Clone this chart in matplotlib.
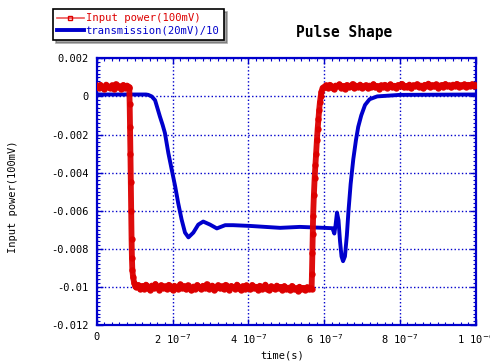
import numpy as np
import matplotlib
matplotlib.use("Agg")
import matplotlib.pyplot as plt
from matplotlib.lines import Line2D
from matplotlib.ticker import MultipleLocator

# ---------------- data ----------------
# Input power (red), sample times in ns
red_high1_t = np.arange(0, 86, 5)
red_high1_v = [0.00055, 0.00043, 0.00061, 0.00047, 0.00038, 0.00062, 0.00050, 0.00044, 0.00058,
               0.00041, 0.00064, 0.00047, 0.00053, 0.00039, 0.00060, 0.00045, 0.00057, 0.00049]
red_fall_t = [86, 87, 88, 89, 90, 91, 92, 93, 94, 96, 99, 102]
red_fall_v = [0.00045, -0.0004, -0.0016, -0.0030, -0.0045, -0.0060, -0.0075, -0.0085, -0.0091,
              -0.0095, -0.0098, -0.00995]
red_low_t = np.arange(105, 566, 5)
red_low_v = [-0.01002, -0.00990, -0.01012, -0.00995, -0.01010, -0.00988, -0.01005, -0.01015, -0.00993,
             -0.01008, -0.00985, -0.01003, -0.01014, -0.00991, -0.01006, -0.00997, -0.01012, -0.00989,
             -0.01004, -0.01016, -0.00994, -0.01001, -0.01011, -0.00987, -0.01007, -0.00996, -0.01013,
             -0.00992, -0.01005, -0.01018, -0.00998, -0.01009, -0.00990, -0.01003, -0.01012, -0.00994,
             -0.01006, -0.00986, -0.01010, -0.01001, -0.00993, -0.01015, -0.01004, -0.00991, -0.01008,
             -0.00997, -0.01012, -0.00989, -0.01005, -0.01014, -0.00995, -0.01002, -0.01010, -0.00988,
             -0.01006, -0.01016, -0.00996, -0.01009, -0.00992, -0.01004, -0.01013, -0.00990, -0.01007,
             -0.00999, -0.01015, -0.00994, -0.01011, -0.01003, -0.00988, -0.01009, -0.01017, -0.00997,
             -0.01006, -0.01012, -0.00993, -0.01008, -0.01000, -0.01014, -0.00996, -0.01010, -0.01004,
             -0.01016, -0.00995, -0.01011, -0.01007, -0.01019, -0.00999, -0.01013, -0.01005, -0.01017,
             -0.01002, -0.01012, -0.01008]
red_rise_t = [567, 568, 569, 570, 571, 573, 575, 577, 579, 581, 583, 585, 587, 589, 591, 593, 596]
red_rise_v = [-0.0101, -0.0093, -0.0082, -0.0072, -0.0063, -0.0052, -0.0043, -0.0036, -0.0030,
              -0.0023, -0.0017, -0.0012, -0.0007, -0.0003, 0.0000, 0.00025, 0.00045]
red_high2_t = np.arange(600, 1001, 5)
red_high2_v = [0.00050, 0.00058, 0.00044, 0.00061, 0.00049, 0.00039, 0.00057, 0.00052, 0.00063, 0.00046,
               0.00055, 0.00041, 0.00060, 0.00048, 0.00054, 0.00065, 0.00043, 0.00056, 0.00050, 0.00062,
               0.00045, 0.00053, 0.00059, 0.00042, 0.00057, 0.00049, 0.00064, 0.00047, 0.00055, 0.00040,
               0.00058, 0.00051, 0.00061, 0.00046, 0.00054, 0.00063, 0.00048, 0.00056, 0.00044, 0.00060,
               0.00052, 0.00066, 0.00047, 0.00055, 0.00050, 0.00062, 0.00043, 0.00058, 0.00053, 0.00064,
               0.00049, 0.00057, 0.00045, 0.00061, 0.00054, 0.00067, 0.00048, 0.00059, 0.00052, 0.00063,
               0.00046, 0.00056, 0.00060, 0.00050, 0.00065, 0.00053, 0.00058, 0.00047, 0.00062, 0.00055,
               0.00066, 0.00051, 0.00059, 0.00054, 0.00063, 0.00049, 0.00061, 0.00057, 0.00064, 0.00053,
               0.00060]

# Transmission (blue), times in ns
blue_t = [0, 130, 136, 145, 154, 160, 167, 174, 180, 189, 198, 207, 215, 224, 233, 242, 255, 268, 281, 299,
          317, 339, 360, 405, 484, 536, 600, 622, 627, 630, 634, 638, 642, 646, 650, 655, 660, 664,
          670, 677, 684, 690, 698, 708, 720, 740, 800, 1000]
blue_v = [0.0001, 0.0001, 0.00008, 0.0, -0.0002, -0.0006, -0.00107, -0.0015, -0.00192, -0.00297, -0.00385,
          -0.00472, -0.0056, -0.00646, -0.00715, -0.0074, -0.00715, -0.00673, -0.00657, -0.00673, -0.00693,
          -0.00676, -0.00676, -0.0068, -0.0069, -0.00685, -0.0069, -0.00692, -0.0072, -0.0068, -0.0061,
          -0.0065, -0.0076, -0.0084, -0.00865, -0.0084, -0.0073, -0.0061, -0.0046, -0.0033, -0.0023,
          -0.0016, -0.0010, -0.00045, -0.00015, 0.0, 0.00008, 0.0001]

x_ticks = [0, 2e-7, 4e-7, 6e-7, 8e-7, 1e-6]
x_ticklabels = ["0", "2 10$^{-7}$", "4 10$^{-7}$", "6 10$^{-7}$", "8 10$^{-7}$", "1 10$^{-6}$"]
y_ticks = [0.002, 0, -0.002, -0.004, -0.006, -0.008, -0.01, -0.012]
y_ticklabels = ["0.002", "0", "-0.002", "-0.004", "-0.006", "-0.008", "-0.01", "-0.012"]

label_red = "Input power(100mV)"
label_blue = "transmission(20mV)/10"
title = "Pulse Shape"

# ---------------- plot ----------------
plt.rcParams['font.family'] = ['DejaVu Sans Mono']
plt.rcParams['mathtext.fontset'] = 'dejavusans'

RED = '#dd0000'
BLUE = '#0000cc'

fig = plt.figure(figsize=(4.9, 3.64), dpi=100)
ax = fig.add_axes([96.7 / 490, 1 - 325 / 364, 379 / 490, (325 - 58.3) / 364])

red_t = np.concatenate([red_high1_t, red_fall_t, red_low_t, red_rise_t, red_high2_t]) * 1e-9
red_v = np.concatenate([red_high1_v, red_fall_v, red_low_v, red_rise_v, red_high2_v])
bt = np.array(blue_t) * 1e-9

ax.plot(bt, blue_v, color=BLUE, lw=2.8, zorder=3, solid_joinstyle='round')
ax.plot(red_t, red_v, color=RED, lw=4.2, marker='o', ms=3.6, mec=RED, mfc=RED, zorder=4,
        solid_joinstyle='round', alpha=0.95)

ax.set_xlim(0, 1e-6)
ax.set_ylim(-0.012, 0.002)
ax.set_xticks(x_ticks)
ax.set_xticklabels(x_ticklabels)
ax.set_yticks(y_ticks)
ax.set_yticklabels(y_ticklabels)
ax.yaxis.set_minor_locator(MultipleLocator(0.0002))
ax.xaxis.set_minor_locator(MultipleLocator(2e-8))

ax.grid(True, which='major', color=BLUE, linestyle=':', linewidth=1.0)
for s in ax.spines.values():
    s.set_color(BLUE)
    s.set_linewidth(1.6)
ax.tick_params(which='both', direction='in', colors=BLUE, top=True, right=True, labelcolor='black',
               labelsize=7.5)
ax.tick_params(which='major', length=4, width=1)
ax.tick_params(which='minor', length=2, width=0.8)
ax.tick_params(axis='y', pad=6)
ax.tick_params(axis='x', pad=5)

ax.set_ylabel("Input power(100mV)", fontsize=7.5)
ax.yaxis.set_label_coords(-(96.7 - 18) / 379, 0.48)
ax.set_xlabel("time(s)", fontsize=7.5)
ax.xaxis.set_label_coords(0.49, -0.095)

fig.text(344 / 490, 1 - 33 / 364, title, fontsize=10.5, fontweight='bold', ha='center', va='center')

handles = [Line2D([], [], color='#ee5555', lw=1.2, marker='s', ms=2.5, mfc='none', mec=RED),
           Line2D([], [], color=BLUE, lw=2.8)]
leg = fig.legend(handles, [label_red, label_blue], loc='upper left',
                 bbox_to_anchor=(53 / 490, 1 - 9 / 364), bbox_transform=fig.transFigure,
                 fontsize=7.6, frameon=True, fancybox=False, shadow=True, borderaxespad=0,
                 handlelength=2.5, handletextpad=0.2, borderpad=0.4, labelspacing=0.25)
leg.get_frame().set_edgecolor('black')
leg.get_frame().set_linewidth(1.2)
for txt, c in zip(leg.get_texts(), [RED, BLUE]):
    txt.set_color(c)

fig.savefig("out.png", dpi=100)
